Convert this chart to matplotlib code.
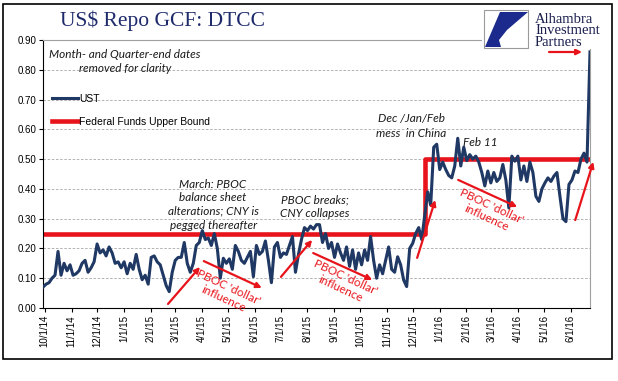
import numpy as np
import pandas as pd
import matplotlib
matplotlib.use('Agg')
import matplotlib.pyplot as plt
import matplotlib.dates as mdates
from matplotlib.patches import Rectangle, Polygon

# UST GCF repo rate (month-/quarter-ends removed)
ust = [0.07, 0.08, 0.085, 0.10, 0.11, 0.19, 0.11, 0.15, 0.125, 0.145, 0.11,
       0.115, 0.125, 0.15, 0.16, 0.12, 0.135, 0.155, 0.215, 0.185, 0.195,
       0.175, 0.205, 0.185, 0.15, 0.155, 0.135, 0.155, 0.115, 0.15, 0.13,
       0.18, 0.13, 0.095, 0.11, 0.08, 0.17, 0.175, 0.155, 0.145, 0.11,
       0.075, 0.055, 0.12, 0.16, 0.17, 0.17, 0.22, 0.15, 0.12, 0.15,
       0.21, 0.22, 0.26, 0.23, 0.235, 0.21, 0.25, 0.20, 0.10, 0.167,
       0.15, 0.165, 0.13, 0.21, 0.19, 0.16, 0.15, 0.17, 0.19, 0.105,
       0.21, 0.18, 0.19, 0.225, 0.16, 0.085, 0.205, 0.22, 0.17, 0.185,
       0.18, 0.21, 0.24, 0.12, 0.18, 0.23, 0.27, 0.26, 0.275, 0.265,
       0.28, 0.28, 0.22, 0.25, 0.20, 0.22, 0.17, 0.215, 0.185, 0.16,
       0.205, 0.14, 0.195, 0.13, 0.185, 0.145, 0.195, 0.16, 0.24, 0.16,
       0.10, 0.145, 0.115, 0.16, 0.205, 0.13, 0.12, 0.172, 0.145, 0.094,
       0.072, 0.20, 0.217, 0.25, 0.27, 0.23, 0.31, 0.39, 0.345, 0.54,
       0.55, 0.465, 0.49, 0.465, 0.445, 0.437, 0.477, 0.57, 0.477, 0.54,
       0.495, 0.515, 0.50, 0.51, 0.49, 0.455, 0.41, 0.46, 0.42, 0.455,
       0.425, 0.437, 0.482, 0.43, 0.336, 0.51, 0.493, 0.51, 0.43, 0.477,
       0.425, 0.49, 0.455, 0.375, 0.358, 0.40, 0.42, 0.437, 0.425, 0.443,
       0.455, 0.375, 0.30, 0.29, 0.415, 0.43, 0.46, 0.455, 0.50, 0.52,
       0.49, 0.86]
start, end = '2014-09-29', '2016-06-23'
ust_dates = pd.date_range(start, end, periods=len(ust))

ff_dates = pd.to_datetime([start, '2015-12-15', end])
ff_upper = [0.25, 0.50, 0.50]

navy = '#1F3864'
red = '#E8141B'

fig = plt.figure(figsize=(6.18, 3.81), dpi=100)
ax = fig.add_axes([43/618, 1-308/381, 547/618, 268/381])

ax.plot(ff_dates, ff_upper, color=red, lw=3.3, drawstyle='steps-post',
        label='Federal Funds Upper Bound', zorder=2)
ax.plot(ust_dates, ust, color=navy, lw=2.2, label='UST', zorder=3)

ax.set_ylim(0, 0.9)
ax.set_xlim(pd.Timestamp(start), pd.Timestamp(end))
ax.set_yticks(np.arange(0, 0.91, 0.1))
ax.yaxis.set_major_formatter(matplotlib.ticker.FormatStrFormatter('%.2f'))
ax.xaxis.set_major_locator(mdates.MonthLocator(bymonthday=1))
ax.xaxis.set_major_formatter(mdates.DateFormatter('%-m/%-d/%y'))
for lab in ax.get_xticklabels():
    lab.set_rotation(90)
ax.tick_params(axis='both', labelsize=7, length=3, width=0.8, pad=2)
for lab in ax.get_xticklabels() + ax.get_yticklabels():
    lab.set_family('Liberation Sans')

ax.grid(axis='y', color='#A6A6A6', lw=0.6, ls=(0, (3, 2)))
ax.set_axisbelow(True)
ax.spines['left'].set_color('black')
ax.spines['bottom'].set_color('black')
for s in ['top', 'right']:
    ax.spines[s].set_color('#A0A0A0')
    ax.spines[s].set_linewidth(0.8)

# legend, UST first
h, l = ax.get_legend_handles_labels()
leg = ax.legend(h[::-1], l[::-1], loc='upper left', bbox_to_anchor=(0.008, 0.815),
                frameon=False, handlelength=2.5, handletextpad=0.15,
                labelspacing=1.25, borderaxespad=0,
                prop={'family': 'Liberation Sans', 'size': 7.5})

# notes
note = dict(style='italic', family='Lato', fontsize=8.5, color='#1a1a1a',
            ha='center', va='center', transform=ax.transAxes)
ax.text(0.15, 0.921, 'Month- and Quarter-end dates\nremoved for clarity',
        linespacing=1.35, **note)
ax.text(0.311, 0.386, 'March: PBOC\nbalance sheet\nalterations; CNY is\npegged thereafter',
        linespacing=1.3, **note)
ax.text(0.497, 0.377, 'PBOC breaks;\nCNY collapses', linespacing=1.3, **note)
ax.text(0.673, 0.679, 'Dec /Jan/Feb\nmess  in China', linespacing=1.35, **note)
ax.text(0.768, 0.616, 'Feb 11', style='italic', family='Lato', fontsize=8.5,
        color='#1a1a1a', ha='left', va='center', transform=ax.transAxes)

# red 'dollar' influence notes
for x, y in [(0.335, 0.056), (0.548, 0.093), (0.815, 0.358)]:
    ax.text(x, y, "PBOC 'dollar'\ninfluence", rotation=-25, color=red,
            family='Lato', fontsize=8.5, ha='center', va='center',
            linespacing=1.2, transform=ax.transAxes, clip_on=False,
            rotation_mode='anchor')

arrows = [((0.2285, 0.015), (0.287, 0.153)),
          ((0.294, 0.175), (0.400, 0.075)),
          ((0.435, 0.116), (0.492, 0.254)),
          ((0.494, 0.205), (0.602, 0.105)),
          ((0.684, 0.187), (0.717, 0.403)),
          ((0.759, 0.478), (0.867, 0.377)),
          ((0.973, 0.328), (1.006, 0.545))]
for a, b in arrows:
    ax.annotate('', xy=b, xytext=a, xycoords='axes fraction',
                arrowprops=dict(arrowstyle='-|>', color=red, lw=1.6,
                                mutation_scale=8, shrinkA=0, shrinkB=0))

# title
fig.text(163/618, 1-21/381, r'US\$ Repo GCF: DTCC', family='Liberation Serif',
         fontsize=15.5, color='#1F2A6B', ha='center', va='center')

# logo
fig.add_artist(Rectangle((482/618, 1-49/381), 130/618, 44/381, transform=fig.transFigure,
                         fc='white', ec='none', zorder=5))
fig.add_artist(Rectangle((484/618, 1-48/381), 44/618, 38/381, transform=fig.transFigure,
                         fc='white', ec='#9a9a9a', lw=0.8, zorder=6))
pts = [(500, 12), (528, 12), (507, 30), (499, 40), (501, 47), (485, 47)]
fig.add_artist(Polygon([(px/618, 1-py/381) for px, py in pts], closed=True,
                       transform=fig.transFigure, fc='#1B2A8C', ec='none', zorder=7))
fig.text(535/618, 1-31/381, 'Alhambra\nInvestment\nPartners', family='Liberation Serif',
         fontsize=10.5, linespacing=0.85, color='#1a1f4e', ha='left', va='center',
         zorder=8)
ax.annotate('', xy=(582/618, 1-52/381), xytext=(549/618, 1-52/381),
            xycoords='figure fraction',
            arrowprops=dict(arrowstyle='-|>', color=red, lw=1.6,
                            mutation_scale=8, shrinkA=0, shrinkB=0))

# outer frame
fig.add_artist(Rectangle((3/618, 1-359/381), 609/618, 355/381, transform=fig.transFigure,
                         fill=False, ec='black', lw=1.2, zorder=10))

fig.savefig('out.png', dpi=100)
